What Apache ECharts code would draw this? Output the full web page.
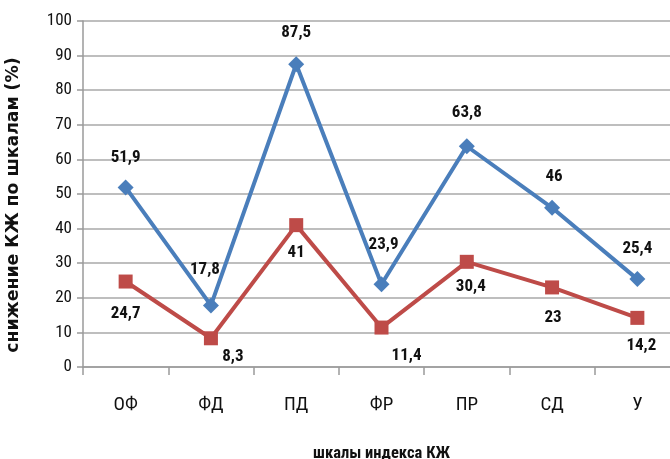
<!DOCTYPE html>
<html>
<head>
<meta charset="utf-8">
<script src="https://cdn.jsdelivr.net/npm/echarts@6/dist/echarts.min.js"></script>
<style>
  html, body { margin: 0; padding: 0; background: #fff; }
  #chart { width: 670px; height: 459px; }
</style>
</head>
<body>
<div id="chart"></div>
<script>
// Scales of the quality-of-life index
const categories = ['ОФ', 'ФД', 'ПД', 'ФР', 'ПР', 'СД', 'У'];
// Reduction of QoL per scale, %
const seriesBlue = [51.9, 17.8, 87.5, 23.9, 63.8, 46, 25.4];
const seriesRed = [24.7, 8.3, 41, 11.4, 30.4, 23, 14.2];
const yTicks = [0, 10, 20, 30, 40, 50, 60, 70, 80, 90, 100];

// label placement per point (pixel shift from the marker centre)
const blueLabelShift = [[0, -30], [-6, -36], [0, -32], [2, -40], [0, -34], [2, -31], [0, -30]];
const redLabelShift = [[0, 32], [22, 18], [0, 28], [25, 28], [4, 25], [1, 30], [4, 28]];

const FONT = "'Roboto Condensed', 'DejaVu Sans Condensed', sans-serif";

function fmt(v) { return String(v).replace('.', ','); }

function buildData(values, shifts) {
  return values.map((v, i) => ({
    value: v,
    label: { offset: shifts[i] }
  }));
}

const chart = echarts.init(document.getElementById('chart'), null, { renderer: 'canvas' });

chart.setOption({
  animation: false,
  backgroundColor: '#ffffff',
  grid: {
    left: 83, right: -10, top: 21, bottom: 92,
    containLabel: false,
    outerBoundsMode: 'none'
  },
  xAxis: {
    type: 'category',
    data: categories,
    boundaryGap: true,
    name: 'шкалы индекса КЖ',
    nameLocation: 'middle',
    nameGap: 78,
    nameTextStyle: { fontFamily: FONT, fontSize: 16.5, fontWeight: 'bold', color: '#111' },
    axisLine: { lineStyle: { color: '#9a9a9a', width: 1.5 } },
    axisTick: { show: true, length: 8, lineStyle: { color: '#9a9a9a', width: 1.5 } },
    axisLabel: { fontFamily: FONT, fontSize: 19, color: '#111', margin: 29 },
    splitLine: { show: false }
  },
  yAxis: {
    type: 'value',
    min: yTicks[0],
    max: yTicks[yTicks.length - 1],
    interval: yTicks[1] - yTicks[0],
    name: 'снижение КЖ по шкалам (%)',
    nameLocation: 'middle',
    nameGap: 61,
    nameRotate: 90,
    nameTextStyle: {
      fontFamily: "'DejaVu Sans', Verdana, sans-serif",
      fontSize: 17.3, fontWeight: 'bold', color: '#111',
      padding: [0, 22, 0, 0]
    },
    axisLine: { show: true, lineStyle: { color: '#9a9a9a', width: 1.5 } },
    axisTick: { show: true, length: 6, lineStyle: { color: '#9a9a9a', width: 1.5 } },
    axisLabel: { fontFamily: FONT, fontSize: 17, color: '#111', margin: 11 },
    splitLine: { show: true, lineStyle: { color: '#a8a8a8', width: 1.5 } }
  },
  series: [
    {
      type: 'line',
      data: buildData(seriesRed, redLabelShift),
      symbol: 'rect',
      symbolSize: 14,
      lineStyle: { color: '#be4b48', width: 4 },
      itemStyle: { color: '#be4b48' },
      label: {
        show: true,
        position: 'inside',
        formatter: p => fmt(p.value),
        fontFamily: FONT, fontSize: 17, fontWeight: 'bold', color: '#111'
      },
      z: 2
    },
    {
      type: 'line',
      data: buildData(seriesBlue, blueLabelShift),
      symbol: 'diamond',
      symbolSize: 16,
      lineStyle: { color: '#4a7ebb', width: 4 },
      itemStyle: { color: '#4a7ebb' },
      label: {
        show: true,
        position: 'inside',
        formatter: p => fmt(p.value),
        fontFamily: FONT, fontSize: 17, fontWeight: 'bold', color: '#111'
      },
      z: 3
    }
  ]
});
</script>
</body>
</html>
